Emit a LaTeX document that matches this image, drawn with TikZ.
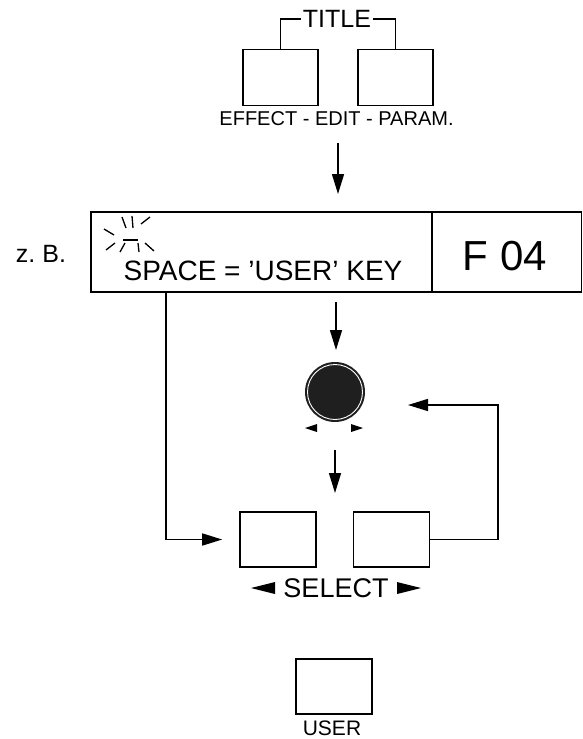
\documentclass[tikz,border=0pt]{standalone}
\usepackage{fontspec}
\setmainfont{Liberation Sans}
\usetikzlibrary{arrows.meta}
\begin{document}
\begin{tikzpicture}[x=1pt,y=-1pt,
  keybox/.style={draw, line width=1.6pt, minimum width=75pt, minimum height=56pt, inner sep=0pt},
  dispbox/.style={draw, line width=1.6pt, minimum height=80pt, inner sep=0pt},
  conn/.style={line width=1.5pt},
  arr/.style={conn, -{Triangle[length=20pt,width=12pt]}},
  lbl/.style={inner sep=0pt, font=\fontsize{#1}{#1}\selectfont},
  ray/.style={line width=1.3pt}]
\useasboundingbox (0,0) rectangle (583,739);
% top keys
\node[keybox] (eff) at (280.5,77.5) {};
\node[keybox] (par) at (395.5,77.5) {};
\node[lbl=25, inner xsep=2pt] (title) at (337,19) {TITLE};
\draw[conn] (title.west) -| (eff.north);
\draw[conn] (title.east) -| (par.north);
\node[lbl=20] (efflbl) at (336.5,119) {EFFECT - EDIT - PARAM.};
% display
\node[dispbox, minimum width=341pt] (msg) at (261.5,252) {};
\node[dispbox, minimum width=150pt] (fn) at (506.5,252) {};
\node[lbl=25] (zb) at (41,254) {z.~B.};
\node[lbl=28] (space) at (263,271) {SPACE = 'USER' KEY};
\node[lbl=42] (f04) at (505,256) {F 04};
% blink symbol
\draw[line width=1.4pt] (123,240) -- (138,240);
\draw[ray] (104,229) -- (114,235);
\draw[ray] (106,250) -- (115,243);
\draw[ray] (122,217) -- (126,228);
\draw[ray] (132,216) -- (133,228);
\draw[ray] (150,217) -- (141,224);
\draw[ray] (120,252) -- (125,243);
\draw[ray] (138,243) -- (139,252);
\draw[ray] (145,243) -- (154,251);
% connectors top
\coordinate (a1s) at (338,143);
\coordinate (a1e) at (338,194);
\draw[arr] (a1s) -- (a1e);
% knob
\node[circle, fill=black!88, minimum size=60pt, inner sep=0pt] (knob) at (335,392) {};
\draw[white, line width=0.9pt] (knob.center) circle (27.5pt);
\fill (317,424) -- (305,428) -- (317,432) -- cycle;
\fill (351,424) -- (363,428) -- (351,432) -- cycle;
\coordinate (a2s) at (336,302);
\coordinate (a2e) at (336,350);
\draw[arr] (a2s) -- (a2e);
\coordinate (a3s) at (335,450);
\coordinate (a3e) at (335,493);
\draw[arr] (a3s) -- (a3e);
% select keys
\node[keybox, minimum width=76pt, minimum height=55pt] (sel1) at (278,539.5) {};
\node[keybox, minimum width=76pt, minimum height=55pt] (sel2) at (391.5,539.5) {};
\node[lbl=27] (select) at (336,588) {SELECT};
\fill (275,582) -- (251,588) -- (275,594) -- cycle;
\fill (397,582) -- (421,588) -- (397,594) -- cycle;
\coordinate (lc) at (166,292);
\draw[arr, shorten >=17pt] (lc) |- (sel1.west);
\coordinate (rc) at (498,405);
\coordinate (ra) at (408,405);
\draw[arr] (sel2.east) -| (rc) -- (ra);
% user key
\node[keybox, minimum width=76pt, minimum height=55pt] (user) at (334,686.5) {};
\node[lbl=21] (userlbl) at (332,728) {USER};
\end{tikzpicture}
\end{document}
